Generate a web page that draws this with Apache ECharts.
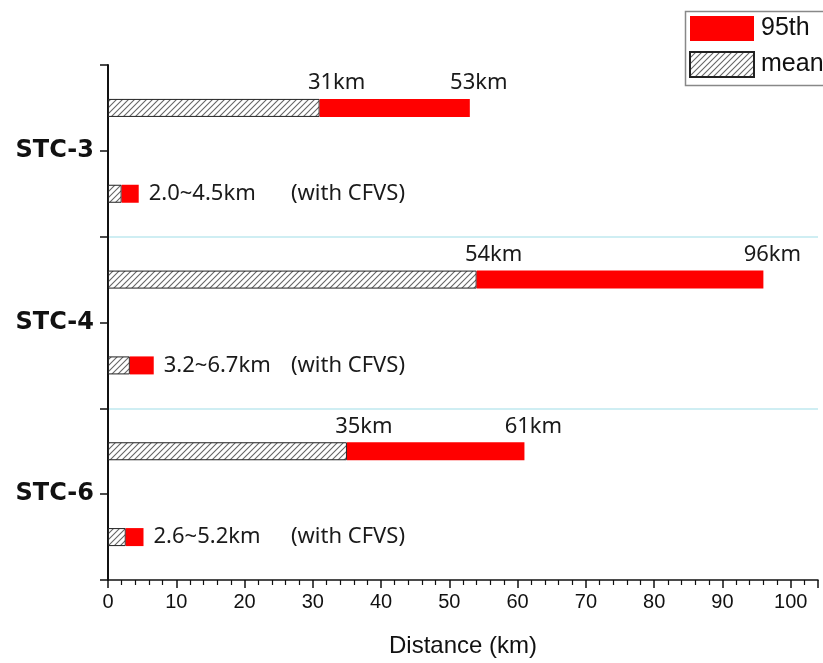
<!DOCTYPE html>
<html>
<head>
<meta charset="utf-8">
<script src="https://cdn.jsdelivr.net/npm/echarts@6/dist/echarts.min.js"></script>
<style>
  html, body { margin: 0; padding: 0; background: #fff; }
  #chart { width: 823px; height: 663px; }
</style>
</head>
<body>
<div id="chart"></div>
<script>
// ---- data ----
const groups = ['STC-3', 'STC-4', 'STC-6'];
const meanKm = [31, 54, 35];          // mean distance (no CFVS)
const p95Km = [53, 96, 61];           // 95th percentile distance (no CFVS)
const meanCfvsKm = [2.0, 3.2, 2.6];   // mean distance with CFVS
const p95CfvsKm = [4.5, 6.7, 5.2];    // 95th percentile with CFVS
const xAxisMin = 0, xAxisMax = 104, xAxisStep = 10;
const cfvsNote = '(with CFVS)';
const legendNames = ['95th', 'mean'];

// ---- layout constants ----
const CFVS_NOTE_X = 26.8;

// hatch pattern
function makeHatch() {
  const c = document.createElement('canvas');
  const s = 6;
  c.width = s; c.height = s;
  const ctx = c.getContext('2d');
  ctx.fillStyle = '#ffffff';
  ctx.fillRect(0, 0, s, s);
  ctx.strokeStyle = '#666';
  ctx.lineWidth = 1.1;
  ctx.beginPath();
  ctx.moveTo(0, s); ctx.lineTo(s, 0);
  ctx.moveTo(-1, 1); ctx.lineTo(1, -1);
  ctx.moveTo(s - 1, s + 1); ctx.lineTo(s + 1, s - 1);
  ctx.stroke();
  return c;
}
const hatch = { image: makeHatch(), repeat: 'repeat' };

// rows: for each group, a "no CFVS" row then a "CFVS" row
const rowNames = [];
const meanRow = [];
const diffRow = [];
groups.forEach((g, i) => {
  rowNames.push(g + ' ');
  rowNames.push(g + ' CFVS');
  meanRow.push(meanKm[i]);
  meanRow.push(meanCfvsKm[i]);
  diffRow.push({ value: +(p95Km[i] - meanKm[i]).toFixed(2) });
  diffRow.push({
    value: +(p95CfvsKm[i] - meanCfvsKm[i]).toFixed(2),
    label: {
      show: true,
      position: 'right',
      distance: 10,
      formatter: meanCfvsKm[i].toFixed(1) + '~' + p95CfvsKm[i].toFixed(1) + 'km'
    }
  });
});

const meanLabelPts = groups.map((g, i) => [meanKm[i], 2 * i]);
const p95LabelPts = groups.map((g, i) => [p95Km[i], 2 * i]);
const notePts = groups.map((g, i) => [CFVS_NOTE_X, 2 * i + 1]);

const labelFont = { fontFamily: 'Noto Sans', fontSize: 22, color: '#1a1a1a', opacity: 1 };

const chart = echarts.init(document.getElementById('chart'), null, { renderer: 'canvas' });
chart.setOption({
  animation: false,
  backgroundColor: '#ffffff',
  grid: { left: 108, right: 5, top: 65, bottom: 83, containLabel: false },
  legend: {
    data: legendNames,
    orient: 'vertical',
    left: 683,
    top: 9,
    padding: [7, 0, 7, 6],
    itemWidth: 64,
    itemHeight: 25,
    itemGap: 10,
    icon: 'rect',
    textStyle: { fontFamily: 'Liberation Sans', fontSize: 25, color: '#111', padding: [0, 0, 0, 2] }
  },
  graphic: [
    {
      type: 'rect',
      left: 683,
      top: 9,
      shape: { width: 200, height: 74 },
      style: { fill: 'none', stroke: '#888', lineWidth: 1.5 },
      silent: true,
      z: 1
    }
  ],
  xAxis: {
    type: 'value',
    min: xAxisMin,
    max: xAxisMax,
    interval: xAxisStep,
    name: 'Distance (km)',
    nameLocation: 'middle',
    nameGap: 54,
    nameTextStyle: { fontFamily: 'Liberation Sans', fontSize: 24, color: '#111' },
    axisLine: { show: true, onZero: false, lineStyle: { color: '#111', width: 1.5 } },
    axisTick: { show: true, length: 8, lineStyle: { color: '#111', width: 1.5 } },
    minorTick: { show: true, splitNumber: 5, length: 5, lineStyle: { color: '#111', width: 1.2 } },
    splitLine: { show: false },
    axisLabel: {
      margin: 12,
      fontFamily: 'Liberation Sans',
      fontSize: 20,
      color: '#111',
      showMaxLabel: false,
      formatter: v => (v % xAxisStep === 0 ? String(v) : '')
    }
  },
  yAxis: [
    {
      type: 'category',
      data: rowNames,
      inverse: true,
      position: 'left',
      axisLine: { show: true, lineStyle: { color: '#111', width: 2 } },
      axisTick: { show: true, length: 8, lineStyle: { color: '#111', width: 1.5 } },
      axisLabel: { show: false },
      splitLine: { show: false }
    },
    {
      type: 'category',
      data: groups,
      inverse: true,
      position: 'left',
      offset: 0,
      axisLine: { show: false },
      axisTick: { show: false },
      axisLabel: {
        margin: 14,
        fontFamily: 'DejaVu Sans',
        fontWeight: 'bold',
        fontSize: 24,
        color: '#111'
      },
      splitLine: {
        show: true,
        showMinLine: false,
        showMaxLine: false,
        lineStyle: { color: '#bfe9ef', width: 1.5 }
      }
    }
  ],
  series: [
    {
      name: 'mean',
      type: 'bar',
      stack: 'dist',
      yAxisIndex: 0,
      barWidth: 18,
      data: meanRow,
      itemStyle: { color: hatch, borderColor: '#222', borderWidth: 1 }
    },
    {
      name: '95th',
      type: 'bar',
      stack: 'dist',
      yAxisIndex: 0,
      barWidth: 18,
      data: diffRow,
      itemStyle: { color: '#ff0000' },
      label: Object.assign({ show: false }, labelFont)
    },
    {
      type: 'scatter',
      yAxisIndex: 0,
      symbolSize: 0,
      silent: true,
      itemStyle: { opacity: 1 },
      data: meanLabelPts,
      label: Object.assign({
        show: true, position: 'inside', offset: [17, -25],
        formatter: p => p.value[0] + 'km'
      }, labelFont)
    },
    {
      type: 'scatter',
      yAxisIndex: 0,
      symbolSize: 0,
      silent: true,
      itemStyle: { opacity: 1 },
      data: p95LabelPts,
      label: Object.assign({
        show: true, position: 'inside', offset: [9, -25],
        formatter: p => p.value[0] + 'km'
      }, labelFont)
    },
    {
      type: 'scatter',
      yAxisIndex: 0,
      symbolSize: 0,
      silent: true,
      itemStyle: { opacity: 1 },
      data: notePts,
      label: Object.assign({
        show: true, position: 'right', distance: 0,
        formatter: cfvsNote
      }, labelFont)
    }
  ]
});
</script>
</body>
</html>
